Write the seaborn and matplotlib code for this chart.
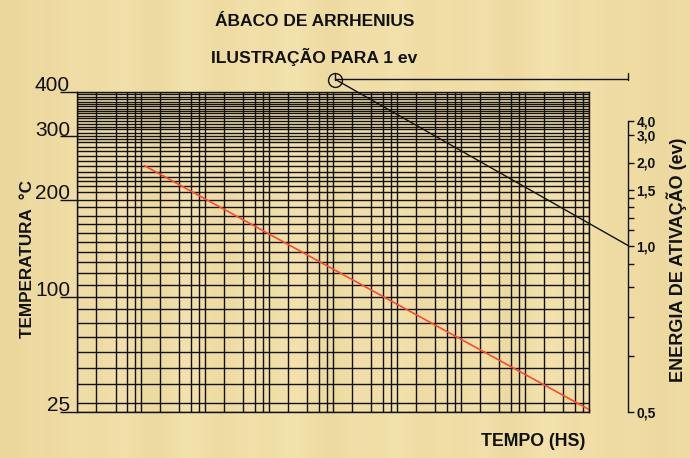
import numpy as np
import matplotlib
matplotlib.use("Agg")
import matplotlib.pyplot as plt
import matplotlib.ticker as mticker
import matplotlib.transforms as mtransforms
from matplotlib.colors import LinearSegmentedColormap
from matplotlib.patches import ConnectionPatch
from matplotlib.lines import Line2D
import pandas as pd
import seaborn as sns

# ---- chart data -------------------------------------------------------
# temperature axis (°C), Arrhenius spacing (1/K)
TEMP_TICKS = [25, 100, 200, 300, 400]
TEMP_TICK_LABELS = ["25", "100", "200", "300", "400"]
TEMP_GRID = [30, 40, 50, 60, 70, 80, 90, 100, 110, 120, 130, 140, 150, 160,
             170, 180, 190, 200, 210, 218, 225, 231, 239, 249, 257, 265, 273,
             281, 289, 295, 300, 307, 314, 319, 325, 331, 337, 342, 348, 354,
             359, 365, 370, 375, 382, 388, 394]

# time axis (hours), logarithmic, eight decades
TIME_RANGE_H = [1, 1e8]
TIME_GRID_SUBS = [1, 2, 4, 6, 8]

# straight Arrhenius line for 1 eV
LINE_TIME_H = [11.3, 1.05e8]
LINE_TEMP_C = [249, 26]

# activation energy scale (eV)
ENERGY_TICKS = [4.0, 3.0, 2.0, 1.5, 1.4, 1.3, 1.2, 1.1, 1.0, 0.9, 0.8, 0.7, 0.6, 0.5]
ENERGY_TICK_LABELS = ["4,0", "3,0", "2,0", "1,5", "", "", "", "", "1,0",
                      "", "", "", "", "0,5"]
ENERGY_SELECTED = 1.0
PIVOT_TIME_H = 1.1e4

# parchment shading, left to right (0 = darker, 1 = lighter)
PAPER_BANDS = [0.2, 0.5, 0.3, 0.7, 0.4, 0.8, 0.5, 0.3, 0.9, 0.6, 0.4, 0.8,
               0.5, 0.9, 0.6, 0.3, 0.8, 0.5, 0.9, 0.4, 0.7, 0.5, 0.8, 0.3,
               0.6, 0.9, 0.5, 0.7, 0.4, 0.6, 0.3, 0.5]

# ---- style ------------------------------------------------------------
sns.set_theme(style="white")
plt.rcParams["font.family"] = ["Liberation Sans", "DejaVu Sans"]
BG = "#EEDBA3"
INK = "#111111"

fig = plt.figure(figsize=(6.9, 4.58), dpi=100, facecolor=BG)

# paper texture behind everything
ax_bg = fig.add_axes([0, 0, 1, 1], zorder=-10)
paper = LinearSegmentedColormap.from_list("paper", ["#E8D294", "#F5E6B2"])
ax_bg.imshow(np.array([PAPER_BANDS]), cmap=paper, vmin=0, vmax=1,
             aspect="auto", interpolation="bicubic", extent=[0, 1, 0, 1])
ax_bg.set_axis_off()

ax = fig.add_axes([77 / 690, 46 / 458, 511.7 / 690, 320 / 458])
ax.set_facecolor("none")

# 1 eV line
df = pd.DataFrame({"tempo_h": LINE_TIME_H, "temperatura_c": LINE_TEMP_C})
sns.lineplot(data=df, x="tempo_h", y="temperatura_c", ax=ax, color="#FF4A2A",
             lw=1.2, estimator=None, sort=False)
ax.lines[-1].set_clip_on(False)
ax.set_xlabel("")
ax.set_ylabel("")

# Arrhenius temperature scale: linear in -1/T
K0 = 273.15


def _fwd(t):
    with np.errstate(divide="ignore", invalid="ignore"):
        return -1.0 / (np.asarray(t, dtype=float) + K0)


def _inv(v):
    with np.errstate(divide="ignore", invalid="ignore"):
        return -1.0 / np.asarray(v, dtype=float) - K0


ax.set_yscale("function", functions=(_fwd, _inv))
ax.set_xscale("log")
ax.set_xlim(*TIME_RANGE_H)
ax.set_ylim(min(TEMP_TICKS), max(TEMP_TICKS))

ax.yaxis.set_major_locator(mticker.FixedLocator(TEMP_TICKS))
ax.yaxis.set_minor_locator(mticker.FixedLocator(TEMP_GRID))
ax.yaxis.set_major_formatter(mticker.NullFormatter())
ax.yaxis.set_minor_formatter(mticker.NullFormatter())
ax.xaxis.set_major_locator(mticker.LogLocator(base=10, numticks=20))
ax.xaxis.set_minor_locator(mticker.LogLocator(base=10, subs=TIME_GRID_SUBS[1:], numticks=20))
ax.xaxis.set_major_formatter(mticker.NullFormatter())
ax.xaxis.set_minor_formatter(mticker.NullFormatter())

ax.grid(which="both", axis="both", color=INK, lw=1.0)
ax.tick_params(axis="y", which="major", direction="out", length=12, width=1,
               color=INK, left=True)
ax.tick_params(axis="y", which="minor", length=0)
ax.tick_params(axis="x", which="both", length=0)
for s in ax.spines.values():
    s.set_color(INK)
    s.set_linewidth(1.0)

for t, lab in zip(TEMP_TICKS, TEMP_TICK_LABELS):
    ax.annotate(lab, xy=(0, t), xycoords=("axes fraction", "data"),
                xytext=(-5, 0.5), textcoords="offset points", ha="right",
                va="baseline", fontsize=15, color=INK)

# ---- activation energy scale (linear in 1/E) --------------------------
ax_e = fig.add_axes([618 / 690, 46.5 / 458, 10 / 690, 332 / 458])
ax_e.set_xlim(0, 1)
ax_e.set_ylim(2.0, 0.0)
ax_e.patch.set_visible(False)
for side in ["left", "top", "bottom"]:
    ax_e.spines[side].set_visible(False)
ax_e.spines["right"].set_color(INK)
ax_e.spines["right"].set_linewidth(1.0)
ax_e.spines["right"].set_bounds(1 / max(ENERGY_TICKS), 1 / min(ENERGY_TICKS))
ax_e.set_xticks([])
ax_e.yaxis.tick_right()
ax_e.set_yticks([1 / e for e in ENERGY_TICKS])
ax_e.set_yticklabels(ENERGY_TICK_LABELS)
ax_e.tick_params(axis="y", direction="out", length=4, width=1, pad=2,
                 labelsize=10, color=INK, labelcolor=INK)
for lab in ax_e.get_yticklabels():
    lab.set_fontweight("bold")

# pivot point of the nomogram (on the 1/E = 0 level)
blend = mtransforms.blended_transform_factory(ax.transData, ax_e.transData)
fig.add_artist(Line2D([PIVOT_TIME_H], [0], transform=blend, marker="o", ms=10,
                      mfc="none", mec=INK, mew=1.0, ls="none"))
fig.add_artist(Line2D([PIVOT_TIME_H, PIVOT_TIME_H], [0, -0.042], transform=blend,
                      color=INK, lw=1.0))
fig.add_artist(Line2D([1, 1], [0, -0.042], transform=ax_e.transData,
                      color=INK, lw=1.0))
for target in (0.0, 1 / ENERGY_SELECTED):
    fig.add_artist(ConnectionPatch(xyA=(PIVOT_TIME_H, 0), coordsA=blend,
                                   xyB=(1, target), coordsB=ax_e.transData,
                                   color=INK, lw=1.0))

# ---- texts -------------------------------------------------------------
fig.text(315 / 690, 1 - 21 / 458, "ÁBACO DE ARRHENIUS", ha="center",
         va="center", fontsize=12.5, fontweight="bold", color=INK)
fig.text(314 / 690, 1 - 57 / 458, "ILUSTRAÇÃO PARA 1 ev", ha="center",
         va="center", fontsize=12.6, fontweight="bold", color=INK)
fig.text(533 / 690, 1 - 442 / 458, "TEMPO (HS)", ha="center", va="center",
         fontsize=12.8, fontweight="bold", color=INK)
fig.text(28 / 690, 1 - 259 / 458, "TEMPERATURA  °C", ha="center", va="center",
         rotation=90, fontsize=12.3, fontweight="bold", color=INK)
fig.text(677 / 690, 1 - 260 / 458, "ENERGIA DE ATIVAÇÃO (ev)", ha="center",
         va="center", rotation=90, fontsize=13, fontweight="bold", color=INK)

fig.savefig("out.png", dpi=100, facecolor=BG)
